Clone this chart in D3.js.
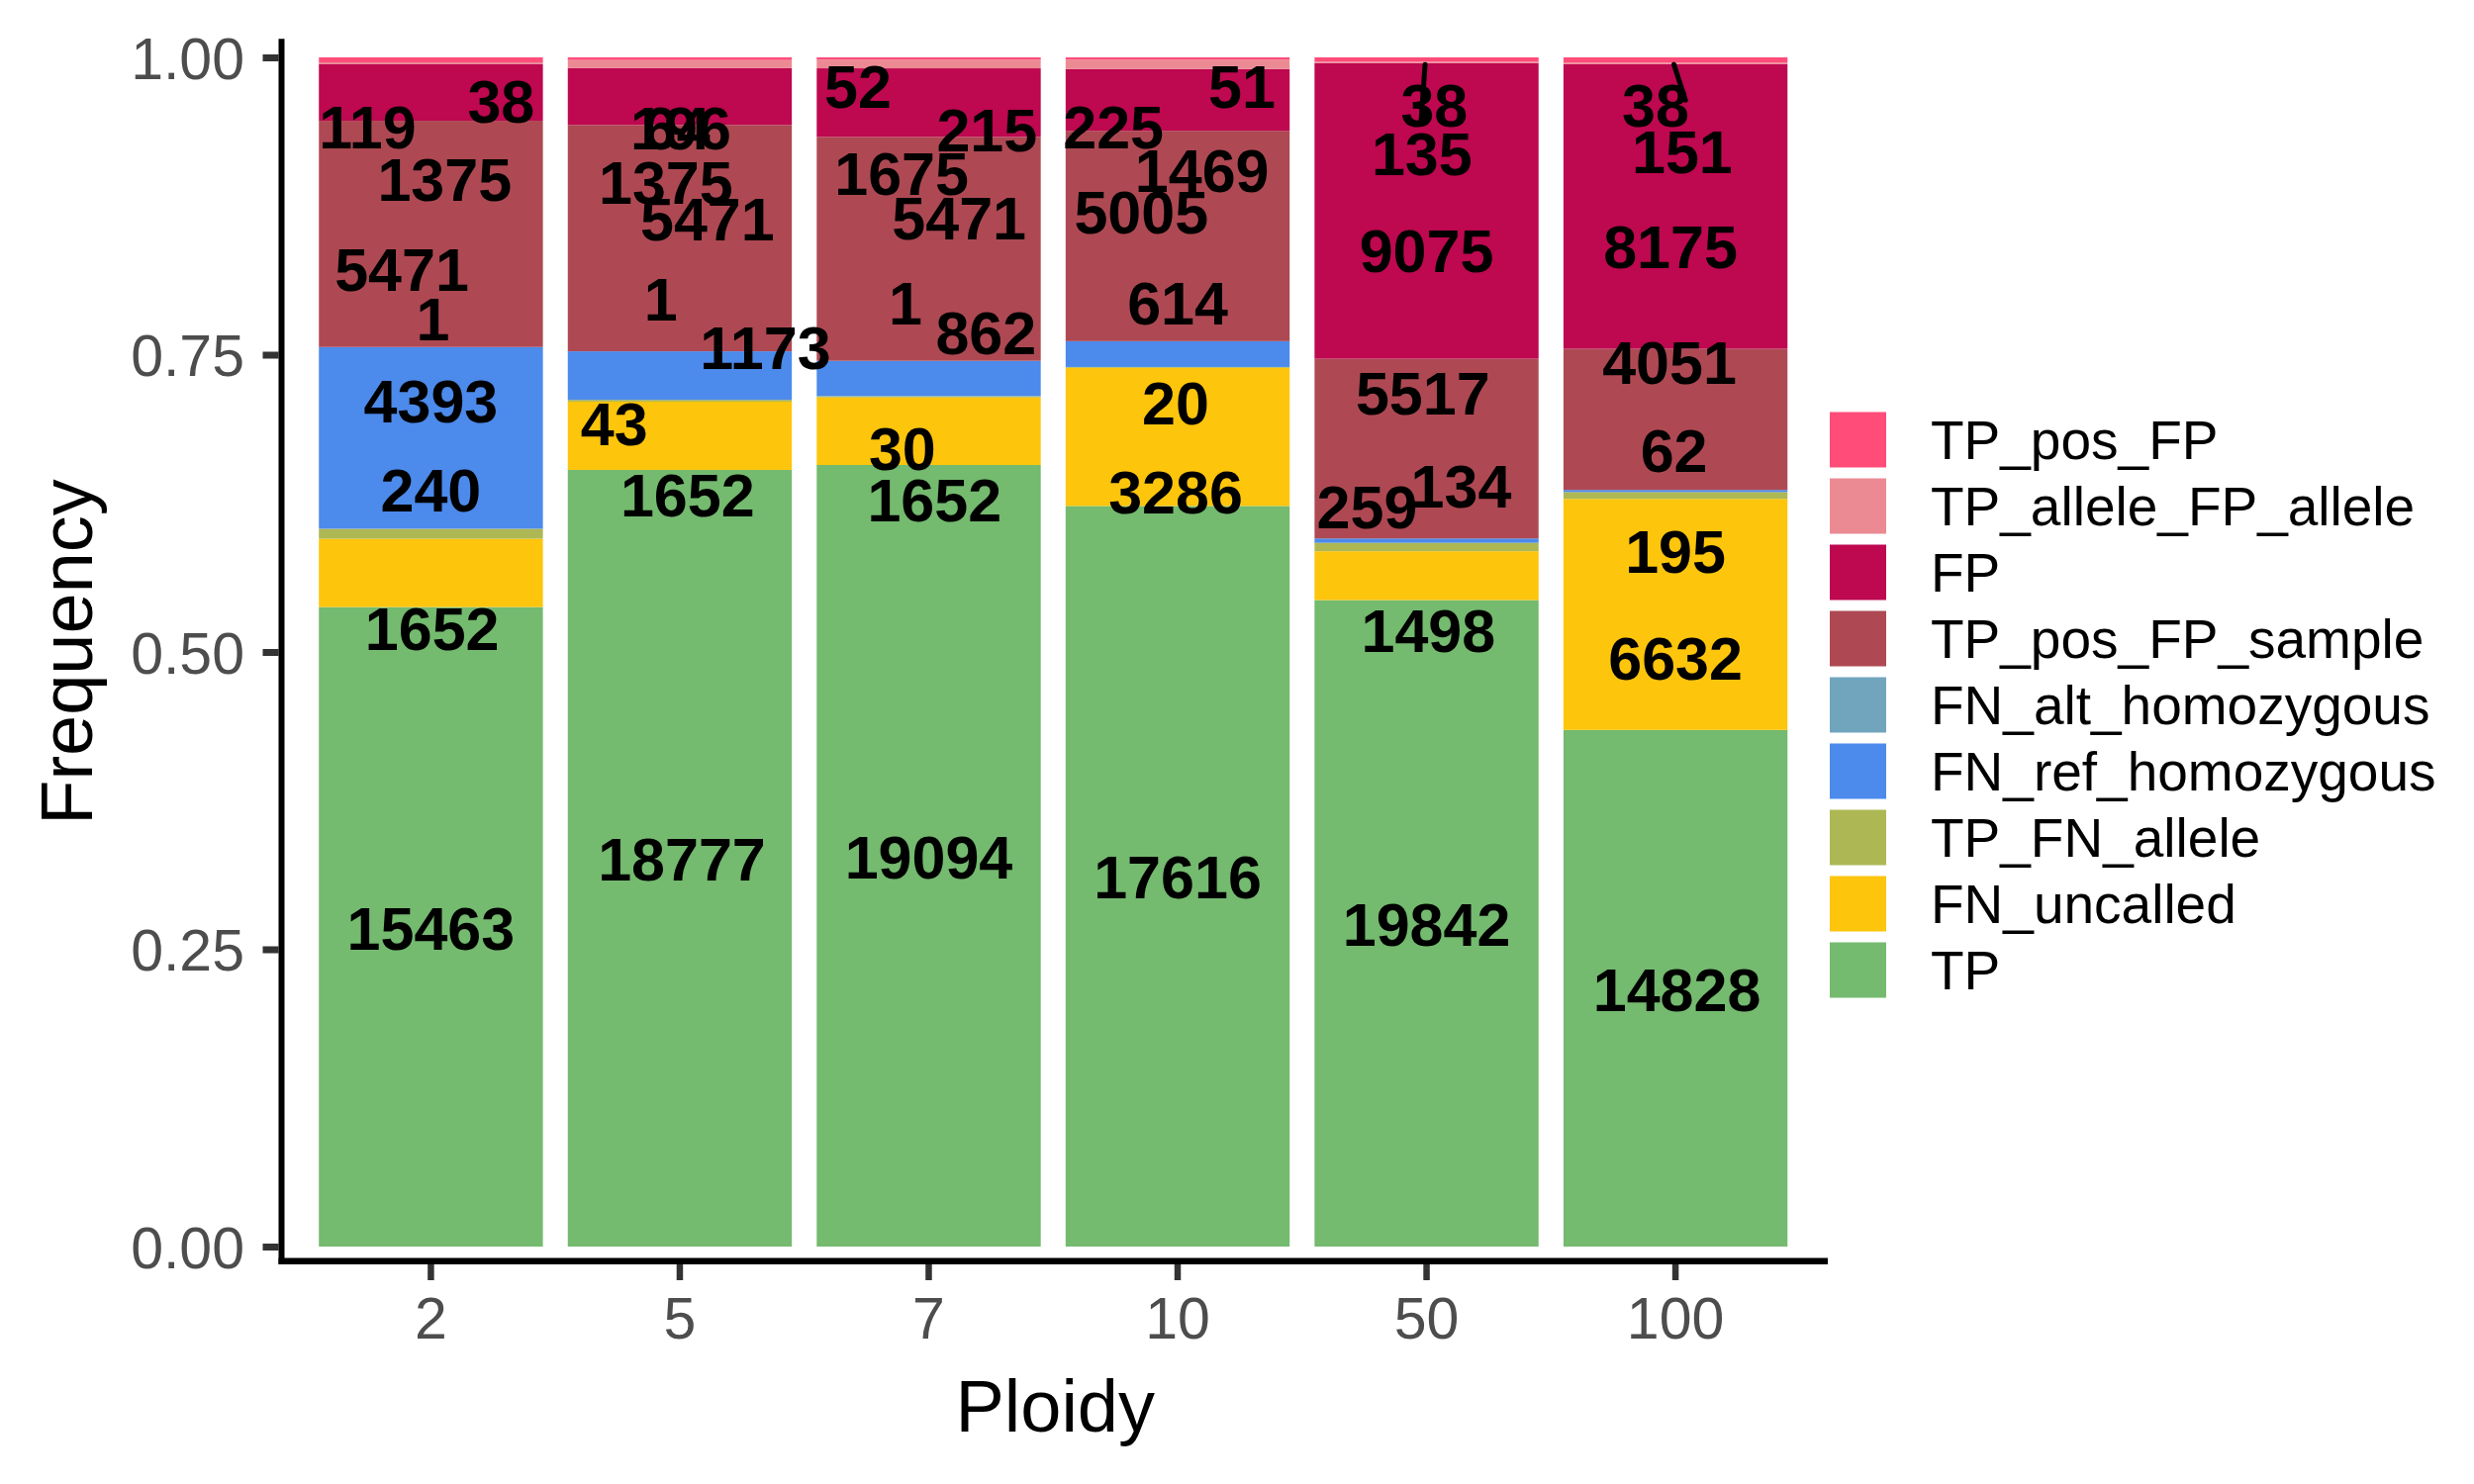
<!DOCTYPE html>
<html>
<head>
<meta charset="utf-8">
<script src="https://cdn.jsdelivr.net/npm/d3@7"></script>
<style>
  body { margin: 0; background: #fff; }
  text { font-family: "Liberation Sans", Arial, Helvetica, sans-serif; }
</style>
</head>
<body>
<div id="chart"></div>
<script>
// ploidy levels on the x axis
var ploidy = ["2", "5", "7", "10", "50", "100"];

// stacking order, bottom to top
var categories = ["TP", "FN_uncalled", "TP_FN_allele", "FN_ref_homozygous", "FN_alt_homozygous",
                  "TP_pos_FP_sample", "FP", "TP_allele_FP_allele", "TP_pos_FP"];
var colors = ["#74BA6F", "#FDC50C", "#ADB854", "#4C8AEB", "#71A5BD",
              "#AE4953", "#BE0850", "#EC8A94", "#FF4C79"];

// counts per category, one value per ploidy
var countTP          = [15463, 18777, 19094, 17616, 19842, 14828];
var countFNuncalled  = [1652, 1652, 1652, 3286, 1498, 6632];
var countTPFNallele  = [240, 43, 30, 20, 259, 195];
var countFNref       = [4393, 1173, 862, 614, 134, 62];
var countFNalt       = [1, 1, 1, 0, 0, 0];
var countTPposSample = [5471, 5471, 5471, 5005, 5517, 4051];
var countFP          = [1375, 1375, 1675, 1469, 9075, 8175];
var countTPallele    = [38, 196, 215, 225, 38, 38];
var countTPpos       = [119, 64, 52, 51, 135, 151];

// where the (repelled) count labels ended up: frequency value and shift in bands
var labelY = [
  [0.268, 0.520, 0.636, 0.711, 0.780, 0.822, 0.898, 0.963, 0.942],
  [0.326, 0.632, 0.692, 0.756, 0.797, 0.864, 0.895, 0.941, 0.941],
  [0.328, 0.628, 0.671, 0.769, 0.794, 0.865, 0.903, 0.939, 0.976],
  [0.311, 0.635, 0.710, 0.794, null,  0.870, 0.905, 0.942, 0.976],
  [0.271, 0.518, 0.622, 0.640, null,  0.718, 0.838, 0.960, 0.919],
  [0.216, 0.495, 0.585, 0.670, null,  0.744, 0.841, 0.960, 0.921]
];
var labelDx = [
  [0,     0.005,  0,      0,     0.008, -0.117,  0.055,  0.282, -0.254],
  [0.008, 0.031, -0.263,  0.344, -0.076, 0.111, -0.056,  0.004, -0.013],
  [0,     0.023, -0.106,  0.230, -0.093, 0.122, -0.109,  0.234, -0.284],
  [0,    -0.008, -0.008,  0,     null,  -0.146,  0.098, -0.258,  0.258],
  [0,     0.007, -0.239,  0.139, null,  -0.015,  0,      0.031, -0.019],
  [0.006, 0,      0,     -0.006, null,  -0.024, -0.020, -0.080,  0.027]
];

// leader segments drawn by the repel step (ploidy, from [dx, y], to [dx, y])
var segPloidy = ["50", "100"];
var segFrom = [[-0.006, 0.994], [-0.006, 0.994]];
var segTo   = [[-0.022, 0.946], [0.040, 0.964]];

var countArrays = [countTP, countFNuncalled, countTPFNallele, countFNref, countFNalt,
                   countTPposSample, countFP, countTPallele, countTPpos];

var table = ploidy.map(function(p, i) {
  var row = {ploidy: p};
  categories.forEach(function(c, j) { row[c] = countArrays[j][i]; });
  return row;
});

var width = 2500, height = 1500;
var plotLeft = 284.5, plotRight = 1844, yZero = 1260, yOne = 58;

var svg = d3.select("#chart").append("svg")
  .attr("width", width)
  .attr("height", height)
  .style("background", "#fff");

var x = d3.scaleBand()
  .domain(ploidy)
  .range([plotLeft, plotRight])
  .paddingInner(0.1)
  .paddingOuter(0.15);

var y = d3.scaleLinear()
  .domain([0, 1])
  .range([yZero, yOne]);

var color = d3.scaleOrdinal().domain(categories).range(colors);

var series = d3.stack()
  .keys(categories)
  .offset(d3.stackOffsetExpand)(table);

// bars
svg.append("g")
  .selectAll("g")
  .data(series)
  .enter()
  .append("g")
  .attr("fill", function(d) { return color(d.key); })
  .selectAll("rect")
  .data(function(d) { return d; })
  .enter()
  .append("rect")
  .attr("x", function(d) { return x(d.data.ploidy); })
  .attr("width", x.bandwidth())
  .attr("y", function(d) { return y(d[1]); })
  .attr("height", function(d) { return Math.max(0, y(d[0]) - y(d[1])); });

// axes
var step = x.step();
function centre(p) { return x(p) + x.bandwidth() / 2; }

var yAxis = svg.append("g")
  .attr("transform", "translate(281.5,0)")
  .call(d3.axisLeft(y).tickValues([0, 0.25, 0.5, 0.75, 1]).tickFormat(d3.format(".2f"))
        .tickSize(16).tickPadding(18.5));
yAxis.select(".domain").remove();
yAxis.selectAll("line").attr("stroke", "#333333").attr("stroke-width", 7);
yAxis.selectAll("text")
  .attr("fill", "#4D4D4D")
  .style("font-size", "59px")
  .attr("dy", "0.36em");

var xAxis = svg.append("g")
  .attr("transform", "translate(0,1278)")
  .call(d3.axisBottom(x).tickSize(16).tickPadding(17));
xAxis.select(".domain").remove();
xAxis.selectAll("line").attr("stroke", "#333333").attr("stroke-width", 6.5);
xAxis.selectAll("text")
  .attr("fill", "#4D4D4D")
  .style("font-size", "59px");

// axis lines
svg.append("line")
  .attr("x1", 284.5).attr("x2", 284.5)
  .attr("y1", y(1.0155)).attr("y2", 1278)
  .attr("stroke", "#000").attr("stroke-width", 6);
svg.append("line")
  .attr("x1", 281.5).attr("x2", 1847)
  .attr("y1", 1274.8).attr("y2", 1274.8)
  .attr("stroke", "#000").attr("stroke-width", 6.5);

// axis titles
svg.append("text")
  .attr("x", (plotLeft + plotRight) / 2 + 2)
  .attr("y", 1447)
  .attr("text-anchor", "middle")
  .style("font-size", "74px")
  .attr("fill", "#000")
  .text("Ploidy");

svg.append("text")
  .attr("transform", "translate(93," + ((yZero + yOne) / 2) + ") rotate(-90)")
  .attr("text-anchor", "middle")
  .style("font-size", "74px")
  .attr("fill", "#000")
  .text("Frequency");

// repel leader segments
svg.append("g")
  .selectAll("line")
  .data(segPloidy)
  .enter()
  .append("line")
  .attr("x1", function(p, i) { return centre(p) + segFrom[i][0] * step; })
  .attr("y1", function(p, i) { return y(segFrom[i][1]); })
  .attr("x2", function(p, i) { return centre(p) + segTo[i][0] * step; })
  .attr("y2", function(p, i) { return y(segTo[i][1]); })
  .attr("stroke", "#000")
  .attr("stroke-width", 5)
  .attr("stroke-linecap", "round");

// count labels
var labels = [];
ploidy.forEach(function(p, i) {
  categories.forEach(function(c, j) {
    var v = countArrays[j][i];
    if (v > 0 && labelY[i][j] !== null) {
      labels.push({ploidy: p, value: v, yv: labelY[i][j], dx: labelDx[i][j]});
    }
  });
});

svg.append("g")
  .selectAll("text")
  .data(labels)
  .enter()
  .append("text")
  .attr("x", function(d) { return centre(d.ploidy) + d.dx * step; })
  .attr("y", function(d) { return y(d.yv); })
  .attr("dy", "0.36em")
  .attr("text-anchor", "middle")
  .style("font-size", "61px")
  .style("font-weight", "bold")
  .attr("fill", "#000")
  .text(function(d) { return d.value; });

// legend, top entry is the top of the stack
var legendCats = categories.slice().reverse();
var legend = svg.append("g")
  .attr("transform", "translate(1849,416.5)")
  .selectAll("g")
  .data(legendCats)
  .enter()
  .append("g")
  .attr("transform", function(d, i) { return "translate(0," + i * 67 + ")"; });

legend.append("rect")
  .attr("width", 57)
  .attr("height", 56)
  .attr("fill", function(d) { return color(d); });

legend.append("text")
  .attr("x", 102)
  .attr("y", 28)
  .attr("dy", "0.36em")
  .style("font-size", "55px")
  .attr("fill", "#000")
  .text(function(d) { return d; });
</script>
</body>
</html>
